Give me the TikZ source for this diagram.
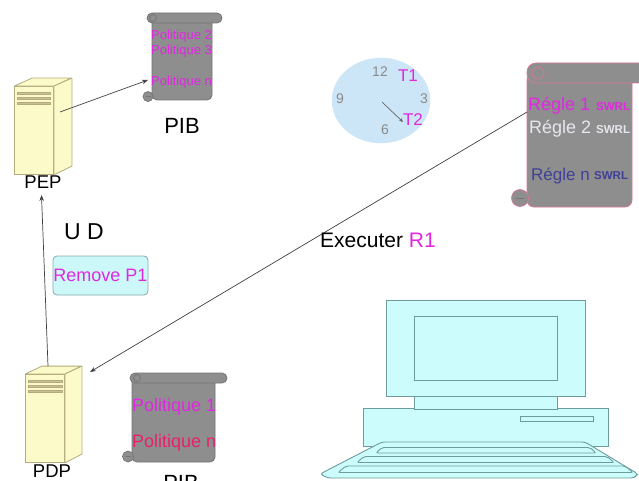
\documentclass[tikz,border=0pt]{standalone}
\usepackage{fontspec}
\setmainfont{Liberation Sans}
\usetikzlibrary{arrows.meta,calc,shapes.geometric}

\definecolor{srvfill}{HTML}{FCFAC8}
\definecolor{srvline}{HTML}{B4AC7C}
\definecolor{srvbar}{HTML}{C8C094}
\definecolor{scrollfill}{HTML}{8E8E8E}
\definecolor{scrollline}{HTML}{747474}
\definecolor{scrollpink}{HTML}{D87898}
\definecolor{clockfill}{HTML}{CCE6F8}
\definecolor{clocknum}{HTML}{8A8A8A}
\definecolor{pcfill}{HTML}{CCFCFC}
\definecolor{pcline}{HTML}{6E9C9C}
\definecolor{boxfill}{HTML}{CCF8FA}
\definecolor{boxline}{HTML}{84AAAA}
\definecolor{magentatxt}{HTML}{E028E0}
\definecolor{crimsontxt}{HTML}{E8206A}
\definecolor{navytxt}{HTML}{404098}
\definecolor{paletxt}{HTML}{E6E6EE}
\definecolor{linkcol}{HTML}{404040}

\tikzset{
  srvfront/.style={draw=srvline, fill=srvfill, line width=0.8pt, minimum width=39pt, minimum height=88pt, inner sep=0pt},
  srvpart/.style={draw=srvline, fill=srvfill, line width=0.8pt, line join=round},
  srvslot/.style={draw=srvline, fill=srvbar, line width=0.5pt},
  scrollbody/.style={draw=scrollline, fill=scrollfill, line width=0.8pt, rounded corners=5pt, inner sep=0pt},
  scrollroll/.style={draw=scrollline, fill=scrollfill, line width=0.8pt, rounded corners=5pt},
  pinkbody/.style={draw=scrollpink, fill=scrollfill, line width=0.8pt, rounded corners=7pt, inner sep=0pt},
  pinkroll/.style={draw=scrollpink, fill=scrollfill, line width=0.8pt, rounded corners=9pt},
  lbl/.style={font=\fontsize{18.5}{20}\selectfont, inner sep=0pt},
  poltxt/.style={font=\fontsize{13}{14}\selectfont, text=magentatxt, inner sep=0pt, anchor=west},
  regtxt/.style={font=\fontsize{18}{20}\selectfont, inner sep=0pt, anchor=base west},
  swrl/.style={font=\bfseries\fontsize{11.5}{12}\selectfont, inner sep=0pt, anchor=base west},
  link/.style={draw=linkcol, line width=0.7pt, -{Stealth[length=6pt,width=4.5pt]}},
  pcpart/.style={draw=pcline, fill=pcfill, line width=0.9pt},
}

\begin{document}
\begin{tikzpicture}[x=1pt, y=-1pt]
\useasboundingbox (0,0) rectangle (639,481);
\fill[white] (0,0) rectangle (639,481);

% ---------- PEP tower ----------
\node[srvfront] (pep) at (34,130.5) {};
\draw[srvpart] (pep.north west) -- ++(18,-8) -- ++(39,0) -- (pep.north east) -- cycle;
\draw[srvpart] (pep.north east) -- ++(18,-8) -- ++(0,88) -- (pep.south east) -- cycle;
\foreach \dy in {6,11,16}
  \draw[srvslot] ($(pep.north west)+(3,\dy)$) rectangle ++(33,2.2);
\node[lbl] (peplbl) at (43,182) {PEP};

% ---------- PDP tower ----------
\node[srvfront] (pdp) at (45,418.5) {};
\draw[srvpart] (pdp.north west) -- ++(17,-8) -- ++(39,0) -- (pdp.north east) -- cycle;
\draw[srvpart] (pdp.north east) -- ++(17,-8) -- ++(0,88) -- (pdp.south east) -- cycle;
\foreach \dy in {6,11,16}
  \draw[srvslot] ($(pdp.north west)+(3,\dy)$) rectangle ++(34,2.2);
\node[lbl] (pdplbl) at (52,471) {PDP};

% ---------- upper PIB scroll ----------
\node[scrollbody, minimum width=60pt, minimum height=82pt] (pibtop) at (182,59) {};
\draw[scrollroll] (147,13) rectangle (222,23);
\draw[scrollline, line width=0.7pt] (153,18) circle (3.5);
\draw[scrollline, line width=0.7pt, fill=scrollfill] (148,96.5) circle (5);
\draw[scrollline, line width=0.6pt] (146,96) -- (151,96);
\begin{scope}
  \clip (151,24) rectangle (212,99);
  \node[poltxt] (p2) at (151,36) {Politique 2};
  \node[poltxt] (p3) at (151,51) {Politique 3};
  \node[poltxt] (pn) at (151,82) {Politique n};
\end{scope}
\node[font=\fontsize{22}{24}\selectfont, inner sep=0pt] (piblbl) at (182,126) {PIB};

% ---------- lower PIB scroll ----------
\node[scrollbody, minimum width=83pt, minimum height=84pt] (pibbot) at (173.5,420) {};
\draw[scrollroll] (130,373) rectangle (227,383);
\draw[scrollline, line width=0.7pt] (137,378) circle (3.5);
\draw[scrollline, line width=0.7pt, fill=scrollfill] (128,456.5) circle (5.5);
\draw[scrollline, line width=0.6pt] (125.5,456) -- (131,456);
\node[font=\fontsize{18}{20}\selectfont, text=magentatxt, inner sep=0pt, anchor=west] (pol1) at (132,407) {Politique 1};
\node[font=\fontsize{18}{20}\selectfont, text=crimsontxt, inner sep=0pt, anchor=west] (polb) at (132,443) {Politique n};
\node[font=\fontsize{22}{24}\selectfont, inner sep=0pt, anchor=base] (piblbl2) at (181,490.5) {PIB};

% ---------- clock ----------
\node[ellipse, draw=clockfill, fill=clockfill, minimum width=98pt, minimum height=85pt, inner sep=0pt] (clock) at (381,100.5) {};
\begin{scope}[font=\fontsize{14}{15}\selectfont, text=clocknum, inner sep=0pt]
  \node (h12) at (380,72) {12};
  \node (h3) at (424,99) {3};
  \node (h6) at (385,130) {6};
  \node (h9) at (340,99) {9};
\end{scope}
\node[font=\fontsize{17}{18}\selectfont, text=magentatxt, inner sep=0pt] (t1) at (408,76) {T1};
\node[font=\fontsize{17}{18}\selectfont, text=magentatxt, inner sep=0pt] (t2) at (413,120) {T2};
\coordinate (hub) at (382,102);
\coordinate (handtip) at (403,122);
\draw[draw=linkcol!80, line width=0.7pt, -{Stealth[length=4pt,width=3.5pt]}] (hub) -- (handtip);

% ---------- SWRL rules scroll ----------
\node[pinkbody, minimum width=105pt, minimum height=134pt] (rules) at (579.5,140) {};
\draw[pinkroll] (527,63) rectangle (652,83);
\draw[scrollpink, line width=0.7pt] (538,73) circle (6);
\draw[scrollpink, line width=0.7pt, fill=scrollfill] (520,198) circle (8.5);
\draw[scrollline, line width=0.6pt] (516,198) -- (524,198);
\node[regtxt, text=magentatxt] (r1) at (528,111) {Régle 1};
\node[swrl, text=magentatxt] (s1) at (596,111) {SWRL};
\node[regtxt, text=paletxt] (r2) at (529,134) {Régle 2};
\node[swrl, text=paletxt] (s2) at (596,134) {SWRL};
\node[regtxt, text=navytxt, font=\fontsize{17}{18}\selectfont] (rn) at (531,181) {Régle n};
\node[swrl, text=navytxt] (sn) at (594,179) {SWRL};

% ---------- labels ----------
\node[font=\fontsize{23}{24}\selectfont, inner sep=0pt] (ud) at (84,232) {U D};
\node[draw=boxline, fill=boxfill, rounded corners=4pt, line width=0.8pt,
      minimum width=95pt, minimum height=39pt, inner sep=0pt,
      font=\fontsize{18}{19}\selectfont, text=magentatxt] (remove) at (100.5,275.5) {Remove P1};

% ---------- connectors ----------
\coordinate (pepout) at (60,112);
\coordinate (pibin) at (148,80);
\draw[link] (pepout) -- (pibin);

\coordinate (pdpup) at (48,366);
\coordinate (pepin) at (41.5,195);
\draw[link] (pdpup) -- (pepin);

\coordinate (rulesout) at (527,112);
\coordinate (pdpin) at (90,372);
\draw[link] (rulesout) -- (pdpin);

\node[font=\fontsize{21}{22}\selectfont, inner sep=0pt, anchor=west] (exec) at (320,240) {Executer \textcolor{magentatxt}{R1}};

% ---------- computer ----------
\draw[pcpart] (363,408) rectangle (608,446);
\draw[pcpart] (414,395) rectangle (557,409);
\draw[pcpart] (386,300) rectangle (585,396);
\draw[pcpart] (414,316) rectangle (557,380);
\draw[pcpart] (520,416) rectangle (593,421);
\draw[pcpart, rounded corners=3pt] (382,442) -- (585,442) -- (638,474) -- (634,478) -- (328,478) -- (320,474) -- cycle;
\draw[pcpart, rounded corners=2pt] (382,447.5) -- (590,447.5) -- (596,453) -- (376,453) -- cycle;
\draw[pcpart, rounded corners=2pt] (364,456.5) -- (607,456.5) -- (614,462.5) -- (357,462.5) -- cycle;
\draw[pcpart, rounded corners=2pt] (346,466) -- (625,466) -- (633,472.5) -- (338,472.5) -- cycle;
\end{tikzpicture}
\end{document}
